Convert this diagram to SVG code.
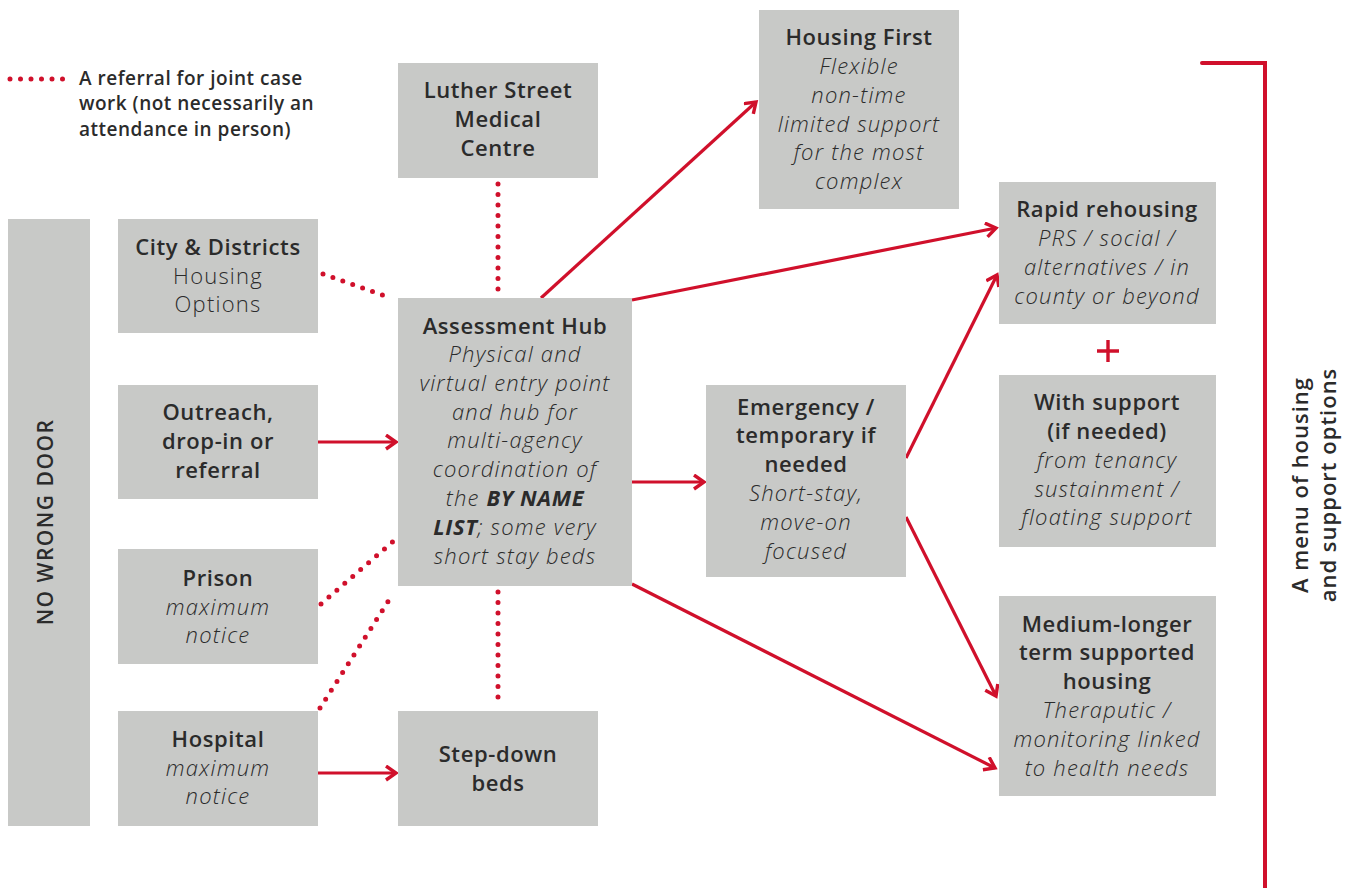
<svg xmlns="http://www.w3.org/2000/svg" width="1351" height="888" viewBox="0 0 1351 888">
<defs>
<style>
.box{fill:#c8c9c7}
text{font-family:"Open Sans","Liberation Sans",sans-serif;fill:#2b2b2b;text-anchor:middle;font-size:22px}
.b{font-weight:600;letter-spacing:0.6px}
.i{font-style:italic;font-weight:300;letter-spacing:1.2px}
.r{font-weight:300;letter-spacing:1.2px}
.sol{stroke:#d0102b;stroke-width:3.2;fill:none;marker-end:url(#ah)}
.dot{stroke:#d0102b;stroke-width:5;stroke-linecap:round;stroke-dasharray:0 10.5;fill:none}
</style>
<marker id="ah" markerUnits="userSpaceOnUse" markerWidth="20" markerHeight="20" refX="12" refY="8" orient="auto" viewBox="0 0 20 20">
<path d="M2,1 L12,8 L2,15" fill="none" stroke="#d0102b" stroke-width="3.4"/>
</marker>
</defs>
<rect width="1351" height="888" fill="#ffffff"/>

<g id="legend">
<line class="dot" x1="10" y1="79" x2="66" y2="79"/>
<text x="79" y="85" class="b" style="text-anchor:start;font-size:19px;letter-spacing:0.5px">A referral for joint case</text>
<text x="79" y="110" class="b" style="text-anchor:start;font-size:19px;letter-spacing:0.5px">work (not necessarily an</text>
<text x="79" y="136" class="b" style="text-anchor:start;font-size:19px;letter-spacing:0.5px">attendance in person)</text>
</g>

<g id="connectors">
<line class="dot" x1="498" y1="184" x2="498" y2="294"/>
<line class="dot" x1="323" y1="274" x2="388" y2="297"/>
<line class="dot" x1="321" y1="604" x2="396" y2="539"/>
<line class="dot" x1="320" y1="708" x2="391" y2="597"/>
<line class="dot" x1="498" y1="592" x2="498" y2="706"/>
<line class="sol" x1="318" y1="442" x2="396" y2="442"/>
<line class="sol" x1="318" y1="773" x2="396" y2="773"/>
<line class="sol" x1="632" y1="482" x2="704" y2="482"/>
<line class="sol" x1="541" y1="298" x2="756" y2="102"/>
<line class="sol" x1="632" y1="300" x2="996" y2="228"/>
<line class="sol" x1="632" y1="584" x2="995" y2="768"/>
<line class="sol" x1="906" y1="458" x2="997" y2="275"/>
<line class="sol" x1="906" y1="517" x2="996" y2="696"/>
<path d="M1202,63 L1265,63 L1265,888" fill="none" stroke="#d0102b" stroke-width="4" stroke-linecap="round"/>
<path d="M1108,340 V362 M1097,351 H1119" stroke="#d0102b" stroke-width="3.4"/>
</g>

<g id="no-wrong-door">
<rect class="box" x="8" y="219" width="82" height="607"/>
<text class="b" transform="translate(53,522) rotate(-90)" style="font-size:21px;letter-spacing:1.5px">NO WRONG DOOR</text>
</g>

<g id="city-districts">
<rect class="box" x="118" y="219" width="200" height="114"/>
<text x="218" y="255" class="b">City &amp; Districts</text>
<text x="218" y="284" class="r">Housing</text>
<text x="218" y="312" class="r">Options</text>
</g>

<g id="outreach">
<rect class="box" x="118" y="385" width="200" height="114"/>
<text x="218" y="420" class="b">Outreach,</text>
<text x="218" y="449" class="b">drop-in or</text>
<text x="218" y="478" class="b">referral</text>
</g>

<g id="prison">
<rect class="box" x="118" y="549" width="200" height="115"/>
<text x="218" y="586" class="b">Prison</text>
<text x="218" y="615" class="i">maximum</text>
<text x="218" y="643" class="i">notice</text>
</g>

<g id="hospital">
<rect class="box" x="118" y="711" width="200" height="115"/>
<text x="218" y="747" class="b">Hospital</text>
<text x="218" y="776" class="i">maximum</text>
<text x="218" y="804" class="i">notice</text>
</g>

<g id="luther-street">
<rect class="box" x="398" y="63" width="200" height="115"/>
<text x="498" y="98" class="b">Luther Street</text>
<text x="498" y="127" class="b">Medical</text>
<text x="498" y="156" class="b">Centre</text>
</g>

<g id="assessment-hub">
<rect class="box" x="398" y="298" width="234" height="288"/>
<text x="515" y="334" class="b">Assessment Hub</text>
<text x="515" y="362" class="i">Physical and</text>
<text x="515" y="391" class="i">virtual entry point</text>
<text x="515" y="420" class="i">and hub for</text>
<text x="515" y="448" class="i">multi-agency</text>
<text x="515" y="477" class="i">coordination of</text>
<text x="515" y="506" class="i">the <tspan style="font-weight:700;letter-spacing:0.6px">BY NAME</tspan></text>
<text x="515" y="535" class="i"><tspan style="font-weight:700;letter-spacing:0.6px">LIST</tspan>; some very</text>
<text x="515" y="564" class="i">short stay beds</text>
</g>

<g id="step-down">
<rect class="box" x="398" y="711" width="200" height="115"/>
<text x="498" y="762" class="b">Step-down</text>
<text x="498" y="791" class="b">beds</text>
</g>

<g id="housing-first">
<rect class="box" x="759" y="10" width="200" height="199"/>
<text x="859" y="45" class="b">Housing First</text>
<text x="859" y="74" class="i">Flexible</text>
<text x="859" y="103" class="i">non-time</text>
<text x="859" y="132" class="i">limited support</text>
<text x="859" y="160" class="i">for the most</text>
<text x="859" y="189" class="i">complex</text>
</g>

<g id="emergency">
<rect class="box" x="706" y="385" width="200" height="192"/>
<text x="806" y="415" class="b">Emergency /</text>
<text x="806" y="443" class="b">temporary if</text>
<text x="806" y="472" class="b">needed</text>
<text x="806" y="501" class="i">Short-stay,</text>
<text x="806" y="530" class="i">move-on</text>
<text x="806" y="559" class="i">focused</text>
</g>

<g id="rapid-rehousing">
<rect class="box" x="999" y="182" width="217" height="142"/>
<text x="1107" y="217" class="b">Rapid rehousing</text>
<text x="1107" y="246" class="i">PRS / social /</text>
<text x="1107" y="275" class="i">alternatives / in</text>
<text x="1107" y="304" class="i">county or beyond</text>
</g>

<g id="with-support">
<rect class="box" x="999" y="375" width="217" height="172"/>
<text x="1107" y="410" class="b">With support</text>
<text x="1107" y="439" class="b">(if needed)</text>
<text x="1107" y="468" class="i">from tenancy</text>
<text x="1107" y="497" class="i">sustainment /</text>
<text x="1107" y="525" class="i">floating support</text>
</g>

<g id="medium-longer">
<rect class="box" x="999" y="596" width="217" height="200"/>
<text x="1107" y="632" class="b">Medium-longer</text>
<text x="1107" y="660" class="b">term supported</text>
<text x="1107" y="689" class="b">housing</text>
<text x="1107" y="718" class="i">Theraputic /</text>
<text x="1107" y="747" class="i">monitoring linked</text>
<text x="1107" y="776" class="i">to health needs</text>
</g>

<g id="menu-label">
<text class="b" transform="translate(1308,485) rotate(-90)" style="font-size:22px;letter-spacing:1px">A menu of housing</text>
<text class="b" transform="translate(1336,485) rotate(-90)" style="font-size:22px;letter-spacing:1px">and support options</text>
</g>
</svg>
